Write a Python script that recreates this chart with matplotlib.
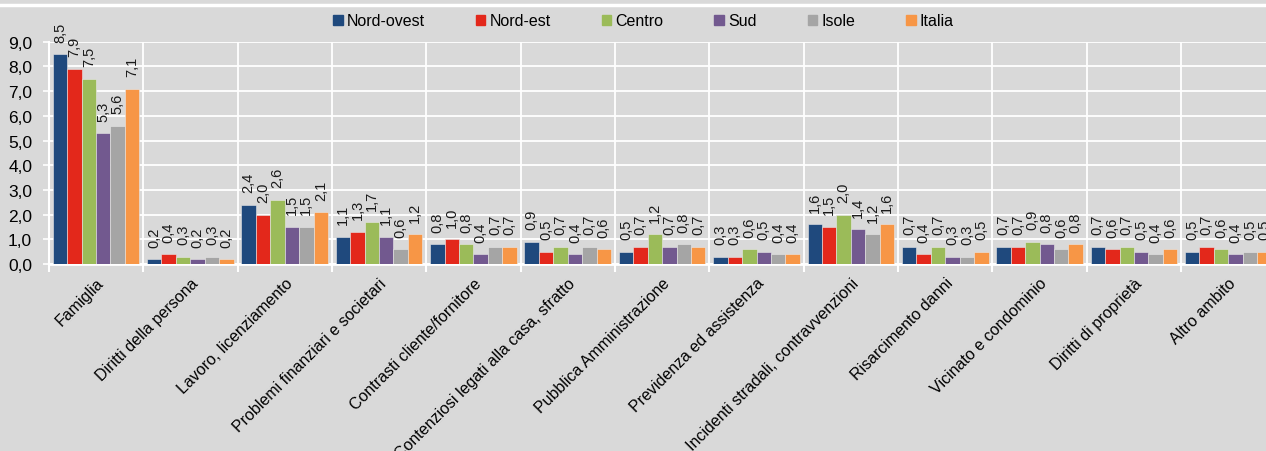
import numpy as np
import matplotlib
matplotlib.use("Agg")
import matplotlib.pyplot as plt
from matplotlib.lines import Line2D

plt.rcParams['font.family'] = ['Liberation Sans', 'DejaVu Sans']

categories = ["Famiglia", "Diritti della persona", "Lavoro, licenziamento",
              "Problemi finanziari e societari", "Contrasti cliente/fornitore",
              "Contenziosi legati alla casa, sfratto", "Pubblica Amministrazione",
              "Previdenza ed assistenza", "Incidenti stradali, contravvenzioni",
              "Risarcimento danni", "Vicinato e condominio", "Diritti di proprietà",
              "Altro ambito"]
regions = ["Nord-ovest", "Nord-est", "Centro", "Sud", "Isole", "Italia"]

nord_ovest = [8.5, 0.2, 2.4, 1.1, 0.8, 0.9, 0.5, 0.3, 1.6, 0.7, 0.7, 0.7, 0.5]
nord_est   = [7.9, 0.4, 2.0, 1.3, 1.0, 0.5, 0.7, 0.3, 1.5, 0.4, 0.7, 0.6, 0.7]
centro     = [7.5, 0.3, 2.6, 1.7, 0.8, 0.7, 1.2, 0.6, 2.0, 0.7, 0.9, 0.7, 0.6]
sud        = [5.3, 0.2, 1.5, 1.1, 0.4, 0.4, 0.7, 0.5, 1.4, 0.3, 0.8, 0.5, 0.4]
isole      = [5.6, 0.3, 1.5, 0.6, 0.7, 0.7, 0.8, 0.4, 1.2, 0.3, 0.6, 0.4, 0.5]
italia     = [7.1, 0.2, 2.1, 1.2, 0.7, 0.6, 0.7, 0.4, 1.6, 0.5, 0.8, 0.6, 0.5]
series = [nord_ovest, nord_est, centro, sud, isole, italia]

colors = ["#1F497D", "#E3281B", "#9BBB59", "#72598F", "#A5A5A5", "#F79646"]
bg = "#D9D9D9"

fig = plt.figure(figsize=(12.66, 4.52), dpi=100, facecolor=bg)
ax = fig.add_axes([48.8 / 1266, 187 / 452, 13 * 94.36 / 1266, 222.3 / 452])
ax.set_facecolor(bg)

x = np.arange(len(categories))
w = 0.153
for i, (vals, col) in enumerate(zip(series, colors)):
    pos = x + (i - 2.5) * w
    ax.bar(pos, vals, width=w, color=col, edgecolor="#E8E8E8", linewidth=0.4, zorder=3)
    for p, v in zip(pos, vals):
        ax.annotate(f"{v:.1f}".replace(".", ","), (p, v), xytext=(0, 9),
                    textcoords="offset points", rotation=90,
                    ha="center", va="bottom", fontsize=10.5, color="#1a1a1a",
                    annotation_clip=False, zorder=4)

ax.set_xlim(-0.5, len(categories) - 0.5)
ax.set_ylim(0, 9)
ax.set_yticks(np.arange(0, 9.1, 1))
ax.set_yticklabels([f"{t:.1f}".replace(".", ",") for t in np.arange(0, 9.1, 1)], fontsize=12.5)
ax.set_xticks(x)
ax.set_xticklabels(categories, rotation=45, ha="right", va="top",
                   rotation_mode="anchor", fontsize=11.5)
ax.set_xticks(np.arange(-0.5, len(categories), 1), minor=True)
ax.tick_params(axis="x", which="major", length=0, pad=8)
ax.tick_params(axis="x", which="minor", length=6, width=1.5, color="white")
ax.tick_params(axis="y", length=4, width=1.2, color="white", pad=8)

ax.grid(axis="y", color="white", linewidth=1.3, zorder=0)
ax.grid(axis="x", which="minor", color="white", linewidth=1.3, zorder=0)
for s in ["top", "right"]:
    ax.spines[s].set_visible(False)
ax.spines["left"].set_color("white")
ax.spines["left"].set_linewidth(1.5)
ax.spines["bottom"].set_color("white")
ax.spines["bottom"].set_linewidth(2)
ax.set_axisbelow(True)

handles = [plt.Rectangle((0, 0), 1, 1, color=c) for c in colors]
fig.legend(handles, regions, loc="center left", bbox_to_anchor=(0.263, 1 - 22 / 452),
           ncol=6, frameon=False, fontsize=11.5, handlelength=0.6, handleheight=0.6,
           handletextpad=0.25, columnspacing=3.2, borderpad=0, borderaxespad=0)

fig.add_artist(Line2D([0, 1], [1 - 6 / 452, 1 - 6 / 452], transform=fig.transFigure,
                      color="white", linewidth=2.5))

fig.savefig("out.png", dpi=100, facecolor=bg)
